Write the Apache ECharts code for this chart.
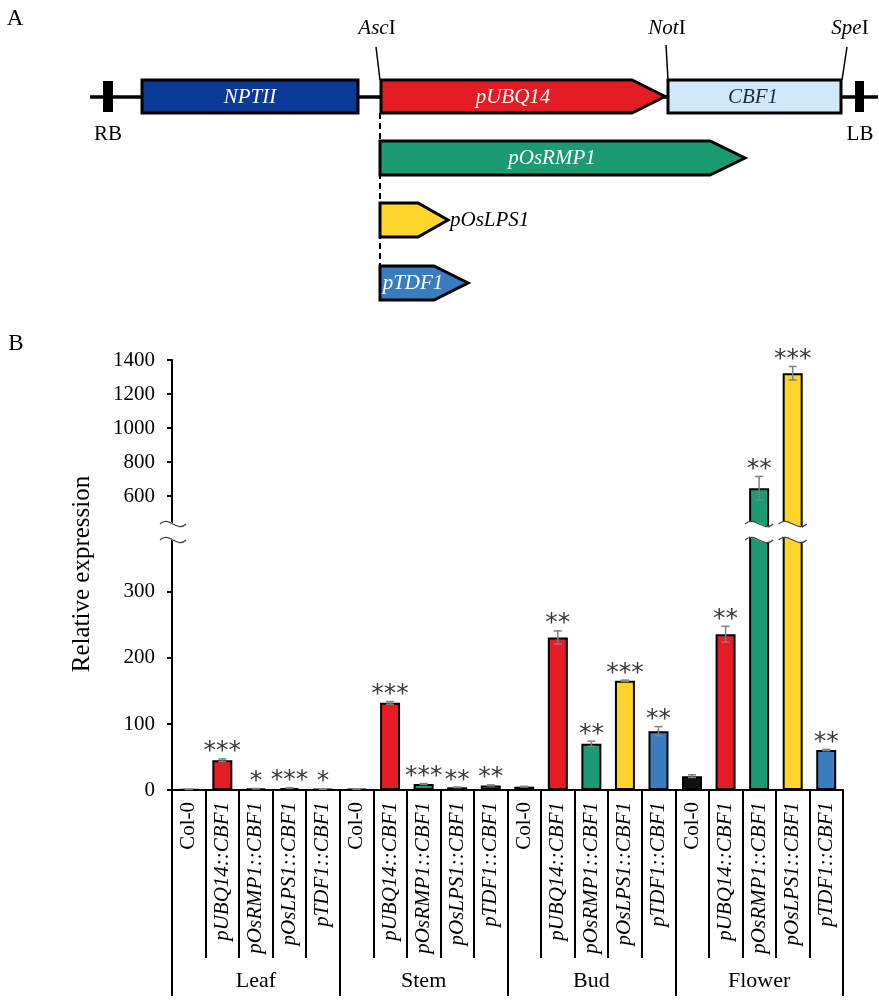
<!DOCTYPE html>
<html><head><meta charset="utf-8">
<script src="https://cdn.jsdelivr.net/npm/echarts@6/dist/echarts.min.js"></script>
<style>html,body{margin:0;padding:0;background:#fff}#c{width:879px;height:1000px}</style>
</head><body><div id="c"></div>
<script>
// ---------- data ----------
const categories = ['Col-0', 'pUBQ14::CBF1', 'pOsRMP1::CBF1', 'pOsLPS1::CBF1', 'pTDF1::CBF1'];
const tissues = ['Leaf', 'Stem', 'Bud', 'Flower'];
const leafValues   = [1, 45, 2, 3, 1.5];
const stemValues   = [1.5, 132, 9, 4, 7];
const budValues    = [5, 231, 70, 165.5, 89];
const flowerValues = [21, 236, 645, 1322, 60.5];
const leafErr   = [0.2, 2, 0.3, 0.5, 0.3];
const stemErr   = [0.2, 2, 0.8, 0.5, 0.8];
const budErr    = [0.6, 10, 4, 1, 7];
const flowerErr = [2, 12, 70, 40, 1];
const leafStars   = ['', '***', '*', '***', '*'];
const stemStars   = ['', '***', '***', '**', '**'];
const budStars    = ['', '**', '**', '***', '**'];
const flowerStars = ['', '**', '**', '***', '**'];
const lowerTicks = [0, 100, 200, 300];
const upperTicks = [600, 800, 1000, 1200, 1400];
const LOWER_MAX = 384.8;
const UPPER_MIN = 411.8;

// ---------- styles ----------
const catColors = ['#111111', '#e31d23', '#1b9b73', '#fdd52c', '#3a7dbf'];
const SERIF = "'Liberation Serif','Times New Roman',serif";
const STAR_FONT = "25px 'DejaVu Sans',sans-serif";
const BAR_W = 20;

const allValues = leafValues.concat(stemValues, budValues, flowerValues);
const allErr = leafErr.concat(stemErr, budErr, flowerErr);
const allStars = leafStars.concat(stemStars, budStars, flowerStars);
const xLabels = tissues.flatMap(() => categories);

const barData = allValues.map((v, i) => ({ value: v, itemStyle: { color: catColors[i % categories.length] } }));
const errData = allValues.map((v, i) => [i, v, allErr[i]]);

function wave(x0, x1, y, amp, lineWidth, color) {
  const w = x1 - x0;
  return {
    type: 'bezierCurve',
    shape: { x1: x0, y1: y, cpx1: x0 + w / 3, cpy1: y - amp, cpx2: x0 + 2 * w / 3, cpy2: y + amp, x2: x1, y2: y },
    style: { stroke: color, lineWidth: lineWidth, fill: null }
  };
}
function breakMark(x0, x1, yc) {
  return [
    wave(x0, x1, yc, 9, 16, '#ffffff'),
    wave(x0, x1, yc - 8, 9, 1.3, '#444'),
    wave(x0, x1, yc + 8, 9, 1.3, '#444')
  ];
}

function makeRender(isTop) {
  return function (params, api) {
    const i = api.value(0), v = api.value(1), e = api.value(2);
    const inTop = v > LOWER_MAX;
    const children = [];
    if (inTop === isTop) {
      const hi = api.coord([i, v + e]);
      const lo = api.coord([i, v - e]);
      const cap = 4;
      const st = { stroke: '#808080', lineWidth: 1.5 };
      children.push({ type: 'line', shape: { x1: hi[0], y1: hi[1], x2: lo[0], y2: lo[1] }, style: st });
      children.push({ type: 'line', shape: { x1: hi[0] - cap, y1: hi[1], x2: hi[0] + cap, y2: hi[1] }, style: st });
      children.push({ type: 'line', shape: { x1: lo[0] - cap, y1: lo[1], x2: lo[0] + cap, y2: lo[1] }, style: st });
      const s = allStars[i];
      if (s) {
        children.push({
          type: 'text',
          x: hi[0], y: hi[1] - 7,
          style: { text: s, textAlign: 'center', textVerticalAlign: 'middle', font: STAR_FONT, fill: '#3a3a3a' }
        });
      }
    }
    if (!isTop) {
      const cs = params.coordSys;
      const yc = cs.y - 4;
      if (inTop) {
        const c = api.coord([i, 0]);
        breakMark(c[0] - BAR_W / 2 - 4, c[0] + BAR_W / 2 + 4, yc).forEach(el => children.push(el));
      }
      if (params.dataIndex === 0) {
        breakMark(cs.x - 12, cs.x + 14, yc).forEach(el => children.push(el));
      }
    }
    return { type: 'group', children: children };
  };
}

// ---------- panel A (construct diagram) ----------
const boxStroke = { stroke: '#000', lineWidth: 3, lineJoin: 'miter' };
function arrowPts(x0, x1, tip, yTop, yBot) {
  const ym = (yTop + yBot) / 2;
  return [[x0, yTop], [x1, yTop], [tip, ym], [x1, yBot], [x0, yBot]];
}
const labelFont = '21px ' + SERIF;
const richSite = {
  i: { fontStyle: 'italic', fontFamily: SERIF, fontSize: 21, fill: '#000' },
  n: { fontStyle: 'normal', fontFamily: SERIF, fontSize: 21, fill: '#000' }
};
const panelA = [
  { type: 'text', x: 15, y: 19, style: { text: 'A', font: '23px ' + SERIF, fill: '#000', textAlign: 'center', textVerticalAlign: 'middle' } },
  { type: 'text', x: 16, y: 344, style: { text: 'B', font: '23px ' + SERIF, fill: '#000', textAlign: 'center', textVerticalAlign: 'middle' } },
  { type: 'line', shape: { x1: 380, y1: 113, x2: 380, y2: 266 }, style: { stroke: '#000', lineWidth: 2, lineDash: [6, 4] } },
  { type: 'line', shape: { x1: 90, y1: 97, x2: 878, y2: 97 }, style: { stroke: '#000', lineWidth: 3.5 } },
  { type: 'rect', shape: { x: 103, y: 81, width: 10, height: 31 }, style: { fill: '#000' } },
  { type: 'rect', shape: { x: 855, y: 81, width: 9, height: 31 }, style: { fill: '#000' } },
  { type: 'rect', shape: { x: 142, y: 80, width: 216, height: 33 }, style: Object.assign({ fill: '#0a3a96' }, boxStroke) },
  { type: 'polygon', shape: { points: arrowPts(381, 632, 665, 80, 113) }, style: Object.assign({ fill: '#e31d23' }, boxStroke) },
  { type: 'rect', shape: { x: 668, y: 80, width: 173, height: 33 }, style: Object.assign({ fill: '#cfe9fa' }, boxStroke) },
  { type: 'polygon', shape: { points: arrowPts(380, 710, 745, 141, 175) }, style: Object.assign({ fill: '#1b9b73' }, boxStroke) },
  { type: 'polygon', shape: { points: arrowPts(380, 418, 448, 203, 237) }, style: Object.assign({ fill: '#fdd52c' }, boxStroke) },
  { type: 'polygon', shape: { points: arrowPts(380, 434, 468, 266, 300) }, style: Object.assign({ fill: '#3a7dbf' }, boxStroke) },
  { type: 'line', shape: { x1: 376, y1: 47, x2: 380, y2: 80 }, style: { stroke: '#000', lineWidth: 1.5 } },
  { type: 'line', shape: { x1: 666, y1: 45, x2: 668, y2: 80 }, style: { stroke: '#000', lineWidth: 1.5 } },
  { type: 'line', shape: { x1: 847, y1: 47, x2: 842, y2: 80 }, style: { stroke: '#000', lineWidth: 1.5 } },
  { type: 'text', x: 377, y: 28, style: { text: '{i|Asc}{n|I}', rich: richSite, textAlign: 'center', textVerticalAlign: 'middle' } },
  { type: 'text', x: 667, y: 28, style: { text: '{i|Not}{n|I}', rich: richSite, textAlign: 'center', textVerticalAlign: 'middle' } },
  { type: 'text', x: 850, y: 28, style: { text: '{i|Spe}{n|I}', rich: richSite, textAlign: 'center', textVerticalAlign: 'middle' } },
  { type: 'text', x: 108, y: 134, style: { text: 'RB', font: labelFont, fill: '#000', textAlign: 'center', textVerticalAlign: 'middle' } },
  { type: 'text', x: 860, y: 134, style: { text: 'LB', font: labelFont, fill: '#000', textAlign: 'center', textVerticalAlign: 'middle' } },
  { type: 'text', x: 250, y: 97, style: { text: 'NPTII', font: 'italic ' + labelFont, fill: '#fff', textAlign: 'center', textVerticalAlign: 'middle' } },
  { type: 'text', x: 513, y: 97, style: { text: 'pUBQ14', font: 'italic ' + labelFont, fill: '#fff', textAlign: 'center', textVerticalAlign: 'middle' } },
  { type: 'text', x: 753, y: 97, style: { text: 'CBF1', font: 'italic ' + labelFont, fill: '#1b2a44', textAlign: 'center', textVerticalAlign: 'middle' } },
  { type: 'text', x: 552, y: 158, style: { text: 'pOsRMP1', font: 'italic ' + labelFont, fill: '#fff', textAlign: 'center', textVerticalAlign: 'middle' } },
  { type: 'text', x: 450, y: 220, style: { text: 'pOsLPS1', font: 'italic ' + labelFont, fill: '#000', textAlign: 'left', textVerticalAlign: 'middle' } },
  { type: 'text', x: 413, y: 283, style: { text: 'pTDF1', font: 'italic ' + labelFont, fill: '#fff', textAlign: 'center', textVerticalAlign: 'middle' } },
  { type: 'text', x: 82, y: 574, rotation: Math.PI / 2, style: { text: 'Relative expression', font: '25px ' + SERIF, fill: '#000', textAlign: 'center', textVerticalAlign: 'middle' } }
];

// ---------- chart ----------
const chart = echarts.init(document.getElementById('c'), null, { renderer: 'canvas' });
const axisBlack = { show: true, lineStyle: { color: '#000', width: 2 } };
const tickLabel = { color: '#000', fontFamily: SERIF, fontSize: 21, margin: 17, formatter: v => String(v) };

chart.setOption({
  animation: false,
  backgroundColor: '#fff',
  grid: [
    { left: 172, right: 36, top: 536, bottom: 210, outerBoundsMode: 'none' },
    { left: 172, right: 36, top: 360, height: 168, outerBoundsMode: 'none' }
  ],
  xAxis: [
    {
      type: 'category', gridIndex: 0, position: 'bottom', data: xLabels,
      axisLine: axisBlack,
      axisTick: { show: true, interval: 0, length: 168, lineStyle: { color: '#000', width: 2 } },
      axisLabel: {
        interval: 0, rotate: 90, margin: 12,
        formatter: v => v === 'Col-0' ? '{n|' + v + '}' : '{i|' + v + '}',
        rich: {
          n: { fontFamily: SERIF, fontSize: 21, color: '#000', fontStyle: 'normal' },
          i: { fontFamily: SERIF, fontSize: 21, color: '#000', fontStyle: 'italic' }
        }
      },
      splitLine: { show: false }
    },
    {
      type: 'category', gridIndex: 0, position: 'bottom', data: tissues,
      axisLine: { show: false },
      axisTick: { show: true, interval: 0, length: 206, lineStyle: { color: '#000', width: 2 } },
      axisLabel: { interval: 0, margin: 180, color: '#000', fontFamily: SERIF, fontSize: 22 },
      splitLine: { show: false }
    },
    { type: 'category', gridIndex: 1, data: xLabels, show: false }
  ],
  yAxis: [
    {
      type: 'value', gridIndex: 0, min: 0, max: LOWER_MAX,
      axisLine: axisBlack,
      axisTick: { show: true, length: 5, customValues: lowerTicks, lineStyle: { color: '#000', width: 2 } },
      axisLabel: Object.assign({ customValues: lowerTicks }, tickLabel),
      splitLine: { show: false }
    },
    {
      type: 'value', gridIndex: 1, min: UPPER_MIN, max: 1400,
      axisLine: axisBlack,
      axisTick: { show: true, length: 5, customValues: upperTicks, lineStyle: { color: '#000', width: 2 } },
      axisLabel: Object.assign({ customValues: upperTicks }, tickLabel),
      splitLine: { show: false }
    }
  ],
  series: [
    {
      type: 'bar', xAxisIndex: 0, yAxisIndex: 0, data: barData, barWidth: BAR_W, clip: true,
      itemStyle: { borderColor: '#000', borderWidth: 2 }
    },
    {
      type: 'bar', xAxisIndex: 2, yAxisIndex: 1, data: barData, barWidth: BAR_W, clip: true,
      itemStyle: { borderColor: '#000', borderWidth: 2 }
    },
    {
      type: 'custom', xAxisIndex: 0, yAxisIndex: 0, data: errData, clip: false, z: 5,
      renderItem: makeRender(false)
    },
    {
      type: 'custom', xAxisIndex: 2, yAxisIndex: 1, data: errData, clip: false, z: 5,
      renderItem: makeRender(true)
    }
  ],
  graphic: { elements: panelA }
});
</script></body></html>
